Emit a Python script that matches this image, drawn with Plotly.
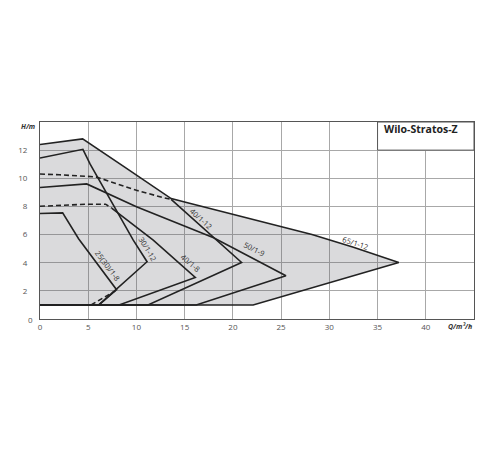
import plotly.graph_objects as go

# ---- data (Q in m3/h, H in m) ----
q_65_12 = [0, 4.42, 8.63, 13.6, 15.5, 21.8, 25.4, 28.2, 32.5, 37.2, 22.1, 0]
h_65_12 = [12.4, 12.8, 10.86, 8.56, 8.22, 7.12, 6.45, 6.0, 5.1, 4.02, 1, 1]

q_50_9 = [0, 4.84, 10.0, 15.5, 18.0, 25.5, 16.2, 0]
h_50_9 = [9.34, 9.6, 7.97, 6.45, 5.78, 3.07, 1, 1]

q_40_12_dash = [0, 2.0, 5.8, 10.0, 12.8, 13.6]
h_40_12_dash = [10.3, 10.25, 10.1, 9.15, 8.62, 8.5]
q_40_12 = [13.6, 17.96, 20.9, 11.2, 0]
h_40_12 = [8.5, 5.86, 4.02, 1, 1]

q_40_8_dash = [0, 4.84, 6.8, 7.43]
h_40_8_dash = [8.01, 8.16, 8.16, 7.88]
q_40_8 = [7.43, 11.74, 16.1, 8.2, 0]
h_40_8 = [7.88, 5.6, 2.95, 1, 1]

q_30_12 = [0, 4.45, 5.2, 9.67, 11.1, 6.1, 0]
h_30_12 = [11.44, 12.06, 11.0, 5.6, 4.07, 1, 1]

q_25_8 = [0, 2.35, 4.0, 7.94, 6.1, 0]
h_25_8 = [7.5, 7.54, 5.7, 2.08, 1, 1]

q_25_30_dash = [5.3, 7.8]
h_25_30_dash = [1.0, 2.0]

labels = ["65/1-12", "50/1-9", "40/1-12", "40/1-8", "30/1-12", "25(30)/1-8"]
label_q = [32.7, 22.2, 16.75, 15.6, 11.2, 7.05]
label_h = [5.37, 4.96, 7.14, 3.95, 5.01, 3.78]
label_angle = [18, 27, 42, 40, 59, 53]

x_ticks = [0, 5, 10, 15, 20, 25, 30, 35, 40]
y_ticks = [2, 4, 6, 8, 10, 12]

LINE = "#222222"
FONT = "Liberation Sans Narrow, Open Sans, Arial, sans-serif"

fig = go.Figure()

# grey envelope
fig.add_trace(go.Scatter(x=q_65_12, y=h_65_12, mode="lines", fill="toself",
                         fillcolor="rgba(85,85,95,0.22)", line=dict(width=0),
                         hoverinfo="skip", showlegend=False))

solid = [(q_65_12, h_65_12), (q_50_9, h_50_9), (q_40_12, h_40_12),
         (q_40_8, h_40_8), (q_30_12, h_30_12), (q_25_8, h_25_8)]
for q, h in solid:
    fig.add_trace(go.Scatter(x=q, y=h, mode="lines",
                             line=dict(color=LINE, width=1.6),
                             showlegend=False, hoverinfo="skip"))

dashed = [(q_40_12_dash, h_40_12_dash), (q_40_8_dash, h_40_8_dash),
          (q_25_30_dash, h_25_30_dash)]
for q, h in dashed:
    fig.add_trace(go.Scatter(x=q, y=h, mode="lines",
                             line=dict(color=LINE, width=1.6, dash="5px,3px"),
                             showlegend=False, hoverinfo="skip"))

annotations = []
for t, x, y, a in zip(labels, label_q, label_h, label_angle):
    annotations.append(dict(x=x, y=y, text=t, showarrow=False, textangle=a,
                            font=dict(size=7.5, color="#333333", family=FONT)))

annotations += [
    dict(x=35.5, y=13.5, text="<b>Wilo-Stratos-Z</b>", showarrow=False,
         xanchor="left", yanchor="middle",
         font=dict(size=10.5, color="#222222", family=FONT)),
    dict(x=0, y=14, text="<i><b>H/m</b></i>", showarrow=False,
         xanchor="right", yanchor="middle", xshift=-3, yshift=-4,
         font=dict(size=7, color="#333333", family=FONT)),
    dict(x=45, y=0, text="<i><b>Q/m³/h</b></i>", showarrow=False,
         xanchor="right", yanchor="top", yshift=-1,
         font=dict(size=7, color="#333333", family=FONT)),
    dict(x=0, y=0, text="0", showarrow=False, xanchor="right", yanchor="middle",
         xshift=-5, font=dict(size=8, color="#555555", family=FONT)),
]

fig.update_layout(
    width=500, height=450,
    margin=dict(l=32, r=34, t=114, b=139, autoexpand=False),
    paper_bgcolor="white", plot_bgcolor="white",
    showlegend=False,
    annotations=annotations,
    shapes=[dict(type="rect", x0=35, x1=45, y0=12, y1=14, xref="x", yref="y",
                 fillcolor="white", line=dict(color="#555555", width=1),
                 layer="above")],
)
fig.update_xaxes(range=[0, 45], tickvals=x_ticks, showgrid=True,
                 gridcolor="#a8a8a8", gridwidth=1, zeroline=False,
                 showline=True, linecolor="#555555", linewidth=1, mirror=True,
                 ticks="", automargin=False,
                 tickfont=dict(size=8, color="#555555", family=FONT))
fig.update_yaxes(range=[0, 14], tickvals=y_ticks, showgrid=True,
                 gridcolor="#a8a8a8", gridwidth=1, zeroline=False,
                 showline=True, linecolor="#555555", linewidth=1, mirror=True,
                 ticks="", ticklabelstandoff=10, automargin=False,
                 tickfont=dict(size=8, color="#555555", family=FONT))

fig.write_html("out.html")
